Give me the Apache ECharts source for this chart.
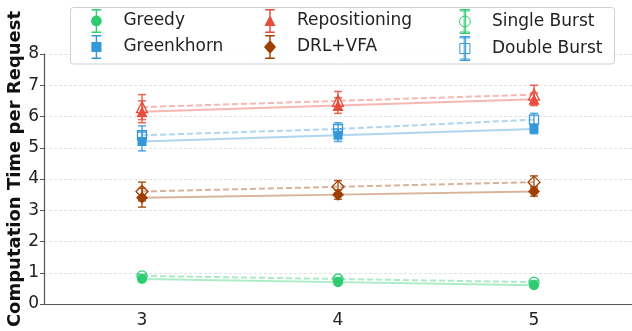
<!DOCTYPE html>
<html>
<head>
<meta charset="utf-8">
<script src="https://cdn.jsdelivr.net/npm/echarts@6/dist/echarts.min.js"></script>
<style>
html,body{margin:0;padding:0;background:#fff;}
#chart{width:632px;height:331px;}
</style>
</head>
<body>
<div id="chart"></div>
<script>
// ---- data ----
var categories = ['3', '4', '5'];
var yTicks = [0, 1, 2, 3, 4, 5, 6, 7, 8];

var greedy = [0.8, 0.7, 0.6];
var greedyErr = [0.05, 0.05, 0.05];
var greedyBurst = [0.9, 0.8, 0.7];
var greedyBurstErr = [0.05, 0.05, 0.05];

var greenkhorn = [5.2, 5.4, 5.6];
var greenkhornErr = [0.3, 0.2, 0.15];
var greenkhornBurst = [5.4, 5.6, 5.9];
var greenkhornBurstErr = [0.3, 0.2, 0.2];

var repositioning = [6.15, 6.35, 6.55];
var repositioningErr = [0.35, 0.25, 0.2];
var repositioningBurst = [6.3, 6.5, 6.7];
var repositioningBurstErr = [0.4, 0.3, 0.3];

var drl = [3.4, 3.5, 3.6];
var drlErr = [0.3, 0.15, 0.15];
var drlBurst = [3.6, 3.75, 3.9];
var drlBurstErr = [0.3, 0.2, 0.2];

// ---- styles ----
var C_GREEN = '#2ecc71', C_BLUE = '#3498db', C_RED = '#e74c3c', C_BROWN = '#a04000';
var FONT = 'DejaVu Sans';

var bar = 'M2,0 h8 v1.2 h-8 Z M2,18.8 h8 v1.2 h-8 Z M5.4,0 h1.2 v20 h-1.2 Z ';
var ICON_CIRCLE = 'path://' + bar + 'M1.5,10 a4.5,4.5 0 1,1 9,0 a4.5,4.5 0 1,1 -9,0 Z';
var ICON_RECT = 'path://' + bar + 'M1.8,5.8 h8.4 v8.4 h-8.4 Z';
var ICON_TRI = 'path://' + bar + 'M6,5 L10.6,14.2 L1.4,14.2 Z';
var ICON_DIA = 'path://' + bar + 'M6,4.2 L11,10 L6,15.8 L1,10 Z';

function errData(vals, errs) {
  return vals.map(function (v, i) { return [i, v - errs[i], v + errs[i]]; });
}

function errSeries(name, vals, errs, color) {
  return {
    name: name,
    type: 'custom',
    z: 3,
    silent: true,
    data: errData(vals, errs),
    renderItem: function (params, api) {
      var x = api.value(0);
      var lo = api.coord([x, api.value(1)]);
      var hi = api.coord([x, api.value(2)]);
      var cw = 4;
      var st = { stroke: color, lineWidth: 1.5, opacity: 0.85 };
      return {
        type: 'group',
        children: [
          { type: 'line', shape: { x1: lo[0], y1: lo[1], x2: hi[0], y2: hi[1] }, style: st },
          { type: 'line', shape: { x1: lo[0] - cw, y1: lo[1], x2: lo[0] + cw, y2: lo[1] }, style: st },
          { type: 'line', shape: { x1: hi[0] - cw, y1: hi[1], x2: hi[0] + cw, y2: hi[1] }, style: st }
        ]
      };
    }
  };
}

function lineSeries(name, vals, color, symbol, size, dashed) {
  return {
    name: name,
    type: 'line',
    z: dashed ? 4 : 5,
    data: vals,
    symbol: symbol,
    symbolSize: size,
    showSymbol: true,
    silent: true,
    lineStyle: { color: color, width: 2, opacity: 0.4, type: dashed ? [6, 3] : 'solid' },
    itemStyle: dashed
      ? { color: 'rgba(255,255,255,0)', borderColor: color, borderWidth: 1.3, opacity: 1 }
      : { color: color, borderColor: color, borderWidth: 0, opacity: 1 },
    emphasis: { disabled: true }
  };
}

var series = [
  // dashed (burst) variants first
  errSeries('Greedy (burst)', greedyBurst, greedyBurstErr, C_GREEN),
  lineSeries('Greedy (burst)', greedyBurst, C_GREEN, 'circle', 10, true),
  errSeries('Greenkhorn (burst)', greenkhornBurst, greenkhornBurstErr, C_BLUE),
  lineSeries('Greenkhorn (burst)', greenkhornBurst, C_BLUE, 'rect', 9, true),
  errSeries('Repositioning (burst)', repositioningBurst, repositioningBurstErr, C_RED),
  lineSeries('Repositioning (burst)', repositioningBurst, C_RED, 'triangle', 11, true),
  errSeries('DRL+VFA (burst)', drlBurst, drlBurstErr, C_BROWN),
  lineSeries('DRL+VFA (burst)', drlBurst, C_BROWN, 'diamond', 12, true),
  // solid variants
  errSeries('Greedy', greedy, greedyErr, C_GREEN),
  lineSeries('Greedy', greedy, C_GREEN, 'circle', 10, false),
  errSeries('Greenkhorn', greenkhorn, greenkhornErr, C_BLUE),
  lineSeries('Greenkhorn', greenkhorn, C_BLUE, 'rect', 9, false),
  errSeries('Repositioning', repositioning, repositioningErr, C_RED),
  lineSeries('Repositioning', repositioning, C_RED, 'triangle', 11, false),
  errSeries('DRL+VFA', drl, drlErr, C_BROWN),
  lineSeries('DRL+VFA', drl, C_BROWN, 'diamond', 12, false),
  // legend proxies
  { name: 'Single Burst', type: 'line', data: [], itemStyle: { color: 'rgba(255,255,255,0)', borderColor: C_GREEN, borderWidth: 1 } },
  { name: 'Double Burst', type: 'line', data: [], itemStyle: { color: 'rgba(255,255,255,0)', borderColor: C_BLUE, borderWidth: 1 } }
];

function legend(left, items) {
  return {
    orient: 'vertical',
    left: left,
    top: 9,
    padding: 0,
    itemWidth: 44,
    itemHeight: 24,
    itemGap: 2,
    z: 20,
    selectedMode: false,
    textStyle: { fontFamily: FONT, fontSize: 17, color: '#222' },
    data: items
  };
}

var option = {
  backgroundColor: '#fff',
  animation: false,
  grid: { left: 44, right: 0, top: 54, bottom: 27, containLabel: false, outerBoundsMode: 'none' },
  graphic: [{
    type: 'rect', z: 10, silent: true,
    shape: { x: 70.5, y: 7.5, width: 544, height: 56.5, r: 3 },
    style: { fill: 'rgba(255,255,255,0.85)', stroke: '#d0d0d0', lineWidth: 1 }
  }],
  legend: [
    legend(91, [
      { name: 'Greedy', icon: ICON_CIRCLE, itemStyle: { color: C_GREEN, borderWidth: 0 } },
      { name: 'Greenkhorn', icon: ICON_RECT, itemStyle: { color: C_BLUE, borderWidth: 0 } }
    ]),
    legend(264, [
      { name: 'Repositioning', icon: ICON_TRI, itemStyle: { color: C_RED, borderWidth: 0 } },
      { name: 'DRL+VFA', icon: ICON_DIA, itemStyle: { color: C_BROWN, borderWidth: 0 } }
    ]),
    legend(459, [
      { name: 'Single Burst', icon: ICON_CIRCLE, itemStyle: { color: 'rgba(255,255,255,0)', borderColor: C_GREEN, borderWidth: 1 } },
      { name: 'Double Burst', icon: ICON_RECT, itemStyle: { color: 'rgba(255,255,255,0)', borderColor: C_BLUE, borderWidth: 1 } }
    ])
  ],
  xAxis: {
    type: 'category',
    data: categories,
    boundaryGap: true,
    axisLine: { lineStyle: { color: '#555', width: 1.2 } },
    axisTick: { alignWithLabel: true, length: 5, lineStyle: { color: '#555' } },
    axisLabel: { fontFamily: FONT, fontSize: 17, color: '#222', margin: 8 },
    splitLine: { show: false }
  },
  yAxis: {
    type: 'value',
    min: yTicks[0],
    max: yTicks[yTicks.length - 1],
    interval: 1,
    name: 'Computation Time per Request',
    nameLocation: 'middle',
    nameGap: 20,
    nameMoveOverlap: false,
    nameTextStyle: { fontFamily: FONT, fontSize: 18, fontWeight: 'bold', color: '#111', padding: [0, 0, 0, 20] },
    axisLine: { show: true, lineStyle: { color: '#555', width: 1.2 } },
    axisTick: { show: true, length: 4, lineStyle: { color: '#555' } },
    axisLabel: { fontFamily: FONT, fontSize: 17, color: '#222', margin: 5 },
    splitLine: { show: true, lineStyle: { color: '#e2e2e2', type: [3, 2], width: 1 } }
  },
  series: series
};

var chart = echarts.init(document.getElementById('chart'), null, { renderer: 'canvas' });
chart.setOption(option);
</script>
</body>
</html>
